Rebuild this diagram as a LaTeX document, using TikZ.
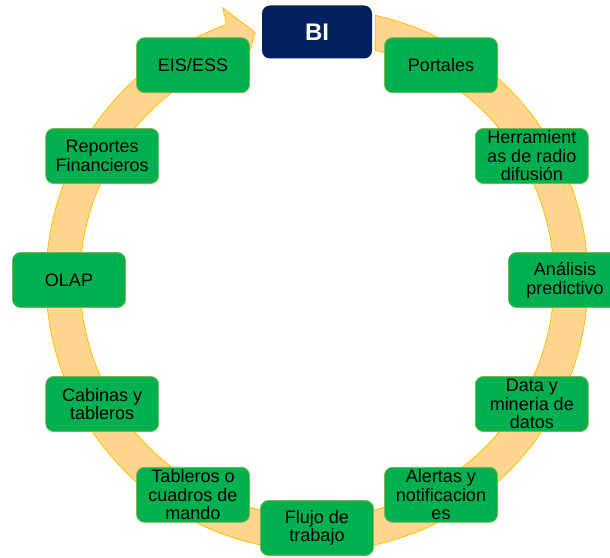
\documentclass[tikz,border=0pt]{standalone}
\usepackage{fontspec}
\setmainfont{Liberation Sans}
\definecolor{bandfill}{RGB}{255,214,143}
\definecolor{bandline}{RGB}{255,192,0}
\definecolor{itemgreen}{RGB}{0,176,80}
\definecolor{itemline}{RGB}{128,182,72}
\definecolor{hubblue}{RGB}{0,32,96}
\tikzset{
  item/.style={draw=itemline, fill=itemgreen, line width=0.8pt, rounded corners=8pt,
    minimum width=113pt, minimum height=55pt, inner sep=0pt, align=center,
    font=\fontsize{18}{18.5}\selectfont},
  hub/.style={fill=hubblue, rounded corners=8pt, minimum width=110pt, minimum height=53pt,
    inner sep=0pt, text=white, font=\fontsize{24}{26}\selectfont\bfseries},
  band/.style={fill=bandfill, draw=bandline, line width=0.8pt, line join=miter}
}
\begin{document}
\begin{tikzpicture}[x=1pt,y=1pt]
\useasboundingbox (-317pt,-277pt) rectangle (293pt,280pt);

% circular arrow running clockwise from right of BI back to its left side
\filldraw[band] (77.6:271pt) arc[start angle=77.6, end angle=-250.5, radius=271pt]
  -- (109.1:288pt) -- (104:255pt) -- (109.5:220pt) -- (109.5:237pt)
  arc[start angle=-250.5, end angle=75.8, radius=237pt] -- cycle;

% ring of tools around the hub
\node[hub]  (bi)   at (90:248pt)  {BI};
\node[item] (port) at (60:248pt)  {Portales};
\node[item] (herr) at (30:248pt)  {Herramient\\as de radio\\difusión};
\node[item] (anal) at (0:248pt)   {Análisis\\predictivo};
\node[item] (data) at (-30:248pt) {Data y\\mineria de\\datos};
\node[item] (alert) at (-60:248pt) {Alertas y\\notificacion\\es};
\node[item] (flujo) at (-90:248pt) {Flujo de\\trabajo};
\node[item] (tabl) at (-120:248pt) {Tableros o\\cuadros de\\mando};
\node[item] (cab)  at (-150:248pt) {Cabinas y\\tableros};
\node[item] (olap) at (180:248pt) {OLAP};
\node[item] (rep)  at (150:248pt) {Reportes\\Financieros};
\node[item] (eis)  at (120:248pt) {EIS/ESS};
\end{tikzpicture}
\end{document}
